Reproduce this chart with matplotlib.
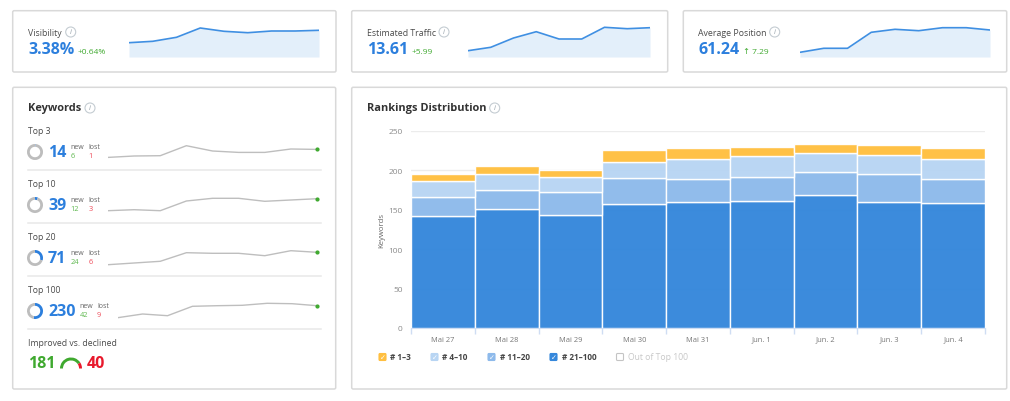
import matplotlib
matplotlib.use("Agg")
import matplotlib.pyplot as plt
from matplotlib.patches import FancyBboxPatch, Circle

plt.rcParams['font.family'] = ['Open Sans', 'DejaVu Sans']

W, H = 1010, 402
BLUE = '#2C7FDD'
GREEN = '#3FA92F'
RED = '#E8192C'
TXT = '#4a4a4a'

# ---------- data ----------
dates = ['Mai 27', 'Mai 28', 'Mai 29', 'Mai 30', 'Mai 31', 'Jun. 1', 'Jun. 2', 'Jun. 3', 'Jun. 4']
rank_21_100 = [142, 150.5, 143.5, 157, 160, 161, 168.5, 160, 158]
rank_11_20 = [24, 24.5, 28.5, 33, 29.5, 30.5, 29.5, 35, 31.5]
rank_4_10 = [21, 21, 19.5, 20.5, 25.5, 27, 24.5, 24, 25]
rank_1_3 = [8, 9, 9.5, 15.5, 13, 11.5, 10.5, 13, 13.5]
y_ticks = [0, 50, 100, 150, 200, 250]

visibility = [14.3, 15.7, 19.7, 29, 25.7, 24.3, 26, 26, 26.7]
traffic = [6.3, 9.7, 19, 25.3, 18, 18, 29.7, 28.3, 29.3]
position = [4.7, 8.7, 8.7, 24.7, 27.7, 26.3, 29.3, 29.3, 27]

top3 = [3.3, 4.7, 5, 15, 9.7, 8.3, 8.3, 11.7, 11.3]
top10 = [3.3, 4.3, 3.3, 13, 15.7, 15.7, 12.7, 14, 15.3]
top20 = [3.3, 5, 6.7, 15.3, 14.7, 14.7, 12.3, 17.3, 15.7]
top100 = [3.3, 7, 5.3, 14.7, 15.3, 15.7, 17.7, 17.3, 15.3]
donut_shares = [0.01, 0.06, 0.30, 0.53]
improved, declined = 181, 40

fig = plt.figure(figsize=(W / 100, H / 100), dpi=100, facecolor='white')


def px_axes(x0, y0, x1, y1, z=2):
    a = fig.add_axes([x0 / W, 1 - y1 / H, (x1 - x0) / W, (y1 - y0) / H], zorder=z)
    a.patch.set_alpha(0)
    return a


bg = px_axes(0, 0, W, H, z=1)
bg.set_xlim(0, W)
bg.set_ylim(H, 0)
bg.axis('off')


def T(x, y, s, size=8, color=TXT, weight='normal', ha='left', **k):
    return bg.text(x, y, s, fontsize=size, color=color, fontweight=weight,
                   ha=ha, va='center', **k)


def card(x0, y0, x1, y1):
    bg.add_patch(FancyBboxPatch((x0, y0), x1 - x0, y1 - y0,
                                boxstyle='round,pad=0,rounding_size=1.5',
                                fc='white', ec='#d9d9d9', lw=1.1))


def info(x, y):
    bg.add_patch(Circle((x, y), 5, fc='white', ec='#c4ccd2', lw=0.8))
    T(x, y, 'i', size=5.5, color='#9aa5ad', ha='center', style='italic')


card(12.7, 11.7, 336, 73)
card(351.7, 11.7, 667.7, 73)
card(683.3, 11.7, 1006.7, 73)
card(12.7, 88.3, 335.7, 390)
card(351.7, 88.3, 1006.7, 390)


# ---------- top cards ----------
def top_card(x, title, iconx, value, valw, delta, sx0, sx1, series):
    T(x, 33, title, size=6.3)
    info(iconx, 33)
    T(x, 50, value, size=11.5, color=BLUE, weight='bold')
    T(x + valw, 52, delta, size=6, color=GREEN)
    a = px_axes(sx0, 18, sx1, 58)
    xs = range(len(series))
    a.fill_between(xs, series, 0, color='#E3EFFA', lw=0)
    a.plot(xs, series, color='#3F8FE2', lw=1.2, solid_joinstyle='round')
    a.set_xlim(0, len(series) - 1)
    a.set_ylim(0, 40)
    a.axis('off')


top_card(28, 'Visibility', 70.7, '3.38%', 50, '+0.64%', 129, 319, visibility)
top_card(367, 'Estimated Traffic', 444, '13.61', 44.7, '+5.99', 468, 650, traffic)
top_card(698.5, 'Average Position', 774.7, '61.24', 44.5, '↑ 7.29', 800, 990, position)

# ---------- keywords card ----------
T(28, 109, 'Keywords', size=7.9, color='#333333', weight='bold')
info(90, 109)


def kw_row(ytitle, title, value, new, lost, share, series, sx0, numw, base):
    T(28, ytitle, title, size=6.2)
    yc = ytitle + 21
    d = px_axes(27, yc - 8, 43, yc + 8)
    d.pie([share, 1 - share], colors=[BLUE, '#BDBDBD'], startangle=90,
          counterclock=False, radius=1.0, wedgeprops=dict(width=0.35, lw=0))
    d.set_xlim(-1, 1)
    d.set_ylim(-1, 1)
    T(48, yc, value, size=11.5, color=BLUE, weight='bold')
    x = 48 + numw
    T(x, yc - 5.5, 'new', size=5, color='#666666')
    T(x + 17.5, yc - 5.5, 'lost', size=5, color='#666666')
    T(x, yc + 4, new, size=5.3, color='#5DB84E')
    T(x + 17.5, yc + 4, lost, size=5.3, color='#EE4A58')
    a = px_axes(sx0, base - 25, 317, base)
    xs = range(len(series))
    a.plot(xs, series, color='#BEBEBE', lw=1.0)
    a.plot([xs[-1]], [series[-1]], 'o', ms=2.0, color=GREEN, clip_on=False)
    a.set_xlim(0, len(series) - 1)
    a.set_ylim(0, 25)
    a.axis('off')


kw_row(132, 'Top 3', '14', '6', '1', donut_shares[0], top3, 108, 22.7, 161.7)
kw_row(185, 'Top 10', '39', '12', '3', donut_shares[1], top10, 108, 22.7, 215)
kw_row(238, 'Top 20', '71', '24', '6', donut_shares[2], top20, 108, 22.7, 269)
kw_row(291, 'Top 100', '230', '42', '9', donut_shares[3], top100, 117.7, 31.5, 322)

for y in (171, 224, 277, 330):
    bg.plot([28, 321], [y, y], color='#e8e8e8', lw=1.1)

T(28, 344, 'Improved vs. declined', size=6.2)
T(28, 364.5, str(improved), size=11.5, color=GREEN, weight='bold')
T(87, 364.5, str(declined), size=11.5, color=RED, weight='bold')
g = px_axes(60, 358.5, 82, 380.5)
g.pie([improved, declined, improved + declined], colors=[GREEN, RED, 'none'],
      startangle=180, counterclock=False, radius=1.0, wedgeprops=dict(width=0.27, lw=0))
g.set_xlim(-1, 1)
g.set_ylim(-1, 1)

# ---------- rankings card ----------
T(367, 109, 'Rankings Distribution', size=7.9, color='#333333', weight='bold')
info(494.7, 109)

ax = px_axes(411, 132, 985, 329)
xpos = list(range(len(dates)))
cols = ['#3587DB', '#8EBAEB', '#B8D5F3', '#FFBF40']
labels = ['# 21–100', '# 11–20', '# 4–10', '# 1–3']
bottom = [0.0] * len(dates)
for vals, c in zip([rank_21_100, rank_11_20, rank_4_10, rank_1_3], cols):
    ax.bar(xpos, vals, width=1.0, bottom=bottom, color=c, edgecolor='white',
           linewidth=1.0, alpha=0.97, zorder=3)
    bottom = [b + v for b, v in zip(bottom, vals)]
ax.set_xlim(-0.5, len(dates) - 0.5)
ax.set_ylim(0, 250)
ax.set_yticks(y_ticks)
ax.set_xticks([i - 0.5 for i in range(len(dates) + 1)])
ax.set_xticklabels([])
ax.set_xticks(xpos, minor=True)
ax.set_xticklabels(dates, minor=True, fontsize=5.4, color='#777777')
ax.tick_params(axis='x', which='major', length=4.5, color='#CFDDF3', width=1)
ax.tick_params(axis='x', which='minor', length=0, pad=5.5)
ax.tick_params(axis='y', length=0, labelsize=6, labelcolor='#8a8a8a', pad=6)
ax.grid(axis='y', color='#ececec', lw=1, zorder=0)
ax.set_axisbelow(True)
for s in ('top', 'left', 'right'):
    ax.spines[s].set_visible(False)
ax.spines['bottom'].set_color('#CFDDF3')
ax.set_ylabel('Keywords', fontsize=5.6, color='#666666', labelpad=2)


def legend_item(x, label, color, checked=True, tcolor='#444444', size=5.9):
    bg.add_patch(FancyBboxPatch((x, 354.5), 7, 7, boxstyle='round,pad=0,rounding_size=1',
                                fc=color if checked else 'white',
                                ec=color if checked else '#c4c4c4', lw=0.8))
    if checked:
        bg.text(x + 3.5, 358, '✓', fontsize=5, color='white', ha='center', va='center',
                family='DejaVu Sans')
    T(x + 11.5, 358, label, size=size, color=tcolor, weight='bold' if checked else 'normal')


legend_item(379, labels[3], cols[3])
legend_item(431, labels[2], cols[2])
legend_item(488, labels[1], cols[1])
legend_item(550, labels[0], cols[0])
legend_item(616.5, 'Out of Top 100', '#c4c4c4', checked=False, tcolor='#c8c8c8', size=6.2)

fig.savefig('out.png', dpi=100)
